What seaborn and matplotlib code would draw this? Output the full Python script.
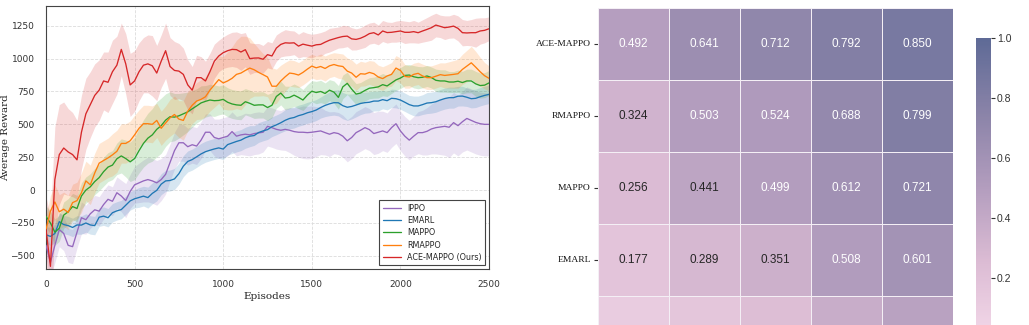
import numpy as np
import pandas as pd
import matplotlib
matplotlib.use("Agg")
import matplotlib.pyplot as plt
import seaborn as sns
from matplotlib.colors import LinearSegmentedColormap

# ---------------- data: learning curves ----------------
episodes = np.arange(0, 2501, 25)
algos = ["IPPO", "EMARL", "MAPPO", "RMAPPO", "ACE-MAPPO (Ours)"]
colors = ["#9467bd", "#1f77b4", "#2ca02c", "#ff7f0e", "#d62728"]

ippo_mean = [-420, -550, -420, -300, -330, -420, -430, -320, -210, -225,
             -180, -150, -160, -110, -70, -85, -20, -45, -80, -10,
             40, 55, 70, 80, 70, 55, 80, 120, 210, 300,
             360, 360, 330, 345, 335, 380, 440, 440, 400, 390,
             400, 410, 445, 410, 420, 425, 420, 430, 435, 440,
             485, 475, 462, 455, 462, 455, 445, 440, 440, 437,
             440, 445, 450, 437, 425, 437, 430, 410, 375, 400,
             437, 455, 475, 460, 430, 440, 450, 437, 475, 505,
             450, 410, 380, 410, 437, 437, 447, 465, 475, 480,
             485, 478, 513, 490, 520, 545, 530, 515, 505, 500,
             500]
emarl_mean = [-340, -352, -330, -240, -262, -270, -284, -265, -266, -250,
              -265, -270, -206, -198, -210, -172, -158, -148, -115, -82,
              -66, -56, -46, -57, -25, -2, 45, 70, 73, 85,
              125, 182, 218, 232, 253, 275, 292, 303, 313, 321,
              312, 346, 358, 370, 380, 398, 410, 415, 438, 450,
              460, 482, 496, 512, 531, 545, 552, 566, 575, 588,
              597, 609, 628, 644, 656, 665, 664, 642, 630, 636,
              647, 659, 665, 668, 677, 677, 688, 680, 698, 695,
              685, 668, 650, 640, 640, 650, 662, 665, 672, 685,
              696, 703, 703, 714, 715, 706, 695, 698, 710, 720,
              728]
mappo_mean = [-200, -250, -320, -290, -190, -165, -125, -140, -45, 0,
              25, 65, 95, 140, 175, 190, 238, 260, 240, 215,
              240, 300, 355, 395, 420, 462, 490, 532, 558, 555,
              565, 580, 595, 618, 640, 663, 675, 685, 680, 682,
              690, 668, 655, 648, 645, 672, 660, 645, 648, 648,
              628, 645, 712, 738, 700, 705, 722, 705, 685, 722,
              752, 742, 750, 735, 760, 745, 705, 785, 812, 768,
              730, 738, 758, 775, 779, 785, 802, 792, 815, 838,
              852, 872, 875, 862, 855, 858, 868, 856, 835, 830,
              830, 822, 822, 828, 818, 830, 830, 808, 795, 798,
              815]
rmappo_mean = [-300, -160, -90, -165, -145, -170, -95, -80, -20, 70,
               40, 130, 205, 225, 245, 268, 295, 355, 355, 375,
               420, 470, 505, 505, 500, 530, 470, 510, 550, 575,
               540, 530, 600, 645, 677, 690, 710, 760, 800, 840,
               815, 830, 850, 880, 890, 910, 928, 915, 895, 878,
               860, 790, 790, 830, 862, 890, 885, 875, 895, 920,
               943, 930, 940, 925, 945, 955, 945, 940, 905, 890,
               858, 885, 882, 895, 885, 860, 848, 868, 880, 928,
               910, 865, 860, 880, 888, 868, 855, 855, 866, 878,
               872, 876, 880, 885, 918, 943, 968, 935, 900, 870,
               850]
ace_mean = [-300, -580, 80, 270, 320, 290, 270, 230, 440, 580,
            650, 720, 760, 830, 820, 900, 950, 1070, 960, 800,
            830, 900, 950, 960, 945, 890, 980, 1060, 940, 910,
            905, 880, 800, 760, 855, 855, 830, 900, 980, 1020,
            1045, 1060, 1070, 1068, 1050, 1068, 1000, 1004, 1005, 995,
            1030, 1020, 1080, 1108, 1120, 1118, 1120, 1095, 1110, 1102,
            1095, 1105, 1108, 1125, 1140, 1150, 1160, 1168, 1171, 1150,
            1146, 1155, 1170, 1190, 1197, 1180, 1210, 1198, 1200, 1205,
            1210, 1200, 1200, 1205, 1197, 1210, 1222, 1235, 1255, 1245,
            1235, 1240, 1247, 1230, 1197, 1195, 1197, 1197, 1210, 1215,
            1227]

# band half-widths
ippo_band = [100, 120, 130, 130, 130, 130, 130, 120, 120, 110,
             110, 110, 110, 110, 110, 110, 120, 120, 130, 130,
             140, 150, 160, 170, 170, 170, 160, 150, 140, 140,
             140, 140, 140, 140, 140, 140, 140, 140, 140, 150,
             150, 150, 150, 150, 150, 160, 160, 160, 160, 150,
             150, 150, 150, 150, 160, 170, 180, 190, 200, 200,
             200, 190, 180, 170, 170, 160, 160, 160, 160, 160,
             160, 160, 160, 160, 160, 160, 150, 150, 150, 150,
             150, 150, 150, 150, 160, 170, 180, 190, 200, 210,
             220, 230, 230, 230, 230, 240, 240, 240, 240, 240,
             240]
emarl_band = [60, 70, 70, 70, 70, 70, 70, 70, 70, 70,
              70, 70, 70, 70, 70, 70, 70, 70, 70, 70,
              70, 75, 75, 80, 80, 80, 80, 80, 80, 80,
              80, 80, 80, 80, 80, 80, 80, 80, 80, 80,
              80, 80, 80, 80, 80, 80, 80, 75, 75, 75,
              75, 75, 75, 75, 80, 80, 80, 80, 80, 80,
              80, 80, 80, 85, 90, 95, 100, 100, 100, 95,
              90, 85, 80, 80, 75, 75, 70, 70, 70, 70,
              70, 70, 70, 75, 75, 75, 80, 80, 80, 80,
              80, 80, 80, 75, 75, 70, 70, 70, 70, 70,
              70]
mappo_band = [80, 90, 100, 100, 100, 100, 100, 100, 100, 100,
              100, 100, 100, 110, 110, 110, 120, 130, 140, 150,
              160, 170, 180, 190, 200, 210, 210, 200, 190, 180,
              170, 160, 150, 140, 130, 130, 120, 120, 120, 110,
              110, 110, 110, 110, 110, 100, 100, 100, 100, 100,
              100, 95, 90, 90, 90, 85, 85, 85, 80, 80,
              80, 85, 85, 80, 80, 85, 90, 90, 85, 80,
              80, 80, 80, 80, 80, 85, 85, 80, 80, 80,
              80, 80, 80, 85, 85, 80, 80, 80, 85, 85,
              85, 80, 80, 85, 85, 90, 90, 95, 95, 95,
              95]
rmappo_band = [100, 120, 130, 130, 130, 130, 140, 140, 150, 150,
               150, 150, 150, 150, 150, 160, 160, 150, 150, 150,
               150, 140, 140, 140, 140, 130, 130, 130, 140, 140,
               140, 150, 150, 140, 140, 150, 150, 160, 170, 180,
               200, 220, 240, 260, 280, 260, 230, 200, 180, 160,
               150, 140, 130, 120, 110, 100, 100, 95, 95, 95,
               90, 90, 95, 95, 90, 90, 95, 95, 100, 100,
               100, 95, 90, 90, 95, 90, 90, 85, 90, 95,
               95, 90, 85, 85, 85, 90, 90, 90, 90, 90,
               95, 100, 105, 110, 115, 120, 125, 120, 110, 100,
               95]
ace_band = [250, 380, 400, 380, 350, 330, 320, 300, 280, 270,
            250, 240, 230, 220, 230, 240, 220, 200, 230, 240,
            230, 220, 210, 220, 230, 210, 200, 210, 220, 220,
            210, 200, 190, 180, 170, 160, 150, 140, 130, 120,
            120, 125, 130, 135, 140, 130, 120, 110, 110, 105,
            100, 100, 100, 95, 100, 95, 90, 90, 95, 90,
            90, 85, 90, 85, 90, 85, 80, 85, 80, 85,
            80, 80, 85, 80, 80, 75, 80, 80, 75, 80,
            80, 85, 80, 85, 80, 85, 90, 95, 90, 85,
            90, 85, 90, 95, 100, 95, 100, 110, 100, 95,
            90]

means = [ippo_mean, emarl_mean, mappo_mean, rmappo_mean, ace_mean]
bands = [ippo_band, emarl_band, mappo_band, rmappo_band, ace_band]

# ---------------- data: heatmap ----------------
hm_rows = ["ACE-MAPPO", "RMAPPO", "MAPPO", "EMARL", "IPPO"]
hm_ace = [0.492, 0.641, 0.712, 0.792, 0.850]
hm_rmappo = [0.324, 0.503, 0.524, 0.688, 0.799]
hm_mappo = [0.256, 0.441, 0.499, 0.612, 0.721]
hm_emarl = [0.177, 0.289, 0.351, 0.508, 0.601]
hm_ippo = [0.112, 0.163, 0.238, 0.372, 0.463]
cbar_ticks = [0.2, 0.4, 0.6, 0.8, 1.0]

# ---------------- figure ----------------
sns.set_theme(style="whitegrid")
plt.rcParams['font.family'] = ['DejaVu Sans']

W, H = 1029, 325
fig = plt.figure(figsize=(W / 100, H / 100), dpi=100)

ax = fig.add_axes([46 / W, 1 - 269 / H, (489 - 46) / W, (269 - 6) / H])

frames = []
for name, m in zip(algos, means):
    frames.append(pd.DataFrame({"Episode": episodes, "Reward": m, "Algorithm": name}))
df = pd.concat(frames, ignore_index=True)

for name, m, b, c in zip(algos, means, bands, colors):
    m = np.array(m, float)
    b = np.array(b, float)
    ax.fill_between(episodes, m - b, m + b, color=c, alpha=0.18, linewidth=0, zorder=1)

sns.lineplot(data=df, x="Episode", y="Reward", hue="Algorithm", hue_order=algos,
             palette=colors, linewidth=0.95, errorbar=None, ax=ax, zorder=3)

ax.set_xlim(0, 2500)
ax.set_ylim(-600, 1400)
ax.set_xticks([0, 500, 1000, 1500, 2000, 2500])
ax.set_yticks([-500, -250, 0, 250, 500, 750, 1000, 1250])
ax.tick_params(labelsize=6.5, pad=2, colors="#333333")
ax.grid(True, linestyle="--", color="#dcdcdc", linewidth=0.6)
for s in ax.spines.values():
    s.set_color("#444444")
    s.set_linewidth(0.8)
ax.set_xlabel("Episodes", fontsize=7.5, family="DejaVu Serif", labelpad=2, color="#222222")
ax.set_ylabel("Average Reward", fontsize=7.5, family="DejaVu Serif", color="#222222")
ax.yaxis.set_label_coords((10 - 46) / 443, 0.5)
leg = ax.legend(loc="lower right", fontsize=5.8, frameon=True, fancybox=False,
                edgecolor="#444444", framealpha=1, borderpad=0.45, labelspacing=0.4,
                handlelength=2.2, borderaxespad=0.45)
leg.get_frame().set_linewidth(0.8)

# heatmap
cmap = LinearSegmentedColormap.from_list(
    "pinkslate", ["#f3d8e9", "#dcbcd4", "#b39dbe", "#8a83a8", "#5e6a96"])
hm_df = pd.DataFrame([hm_ace, hm_rmappo, hm_mappo, hm_emarl, hm_ippo], index=hm_rows)

axh = fig.add_axes([597.7 / W, 1 - 368.3 / H, 355.6 / W, 360.3 / H])
cax = fig.add_axes([976 / W, 1 - 338 / H, 14.7 / W, 300.3 / H])

sns.heatmap(hm_df, ax=axh, cbar_ax=cax, cmap=cmap, vmin=0, vmax=1,
            annot=True, fmt=".3f",
            annot_kws={"fontsize": 8.5, "family": "Liberation Sans"},
            linewidths=0.7, linecolor="#f4eff5", xticklabels=False)
vals = hm_df.values.flatten()
for t, v in zip(axh.texts, vals):
    t.set_color("white" if v > 0.47 else "#262626")
# the last row's labels fall below the visible canvas in the reference
for t in axh.texts[-len(hm_ippo):]:
    t.set_visible(False)

axh.set_yticklabels(hm_rows, rotation=0, fontsize=6.8, family="Liberation Serif", color="#111111")
axh.get_yticklabels()[-1].set_visible(False)
axh.tick_params(axis="y", left=True, length=3, width=0.8, color="#333333", pad=2)
axh.set_xlabel("")
axh.set_ylabel("")

cbar = axh.collections[0].colorbar
cbar.set_ticks(cbar_ticks)
cbar.outline.set_visible(False)
cax.tick_params(right=True, length=3, width=0.8, color="#333333", labelsize=7.5, pad=1.5)
for lab in cax.get_yticklabels():
    lab.set_family("Liberation Sans")
    lab.set_color("#333333")

fig.savefig("out.png", dpi=100)
